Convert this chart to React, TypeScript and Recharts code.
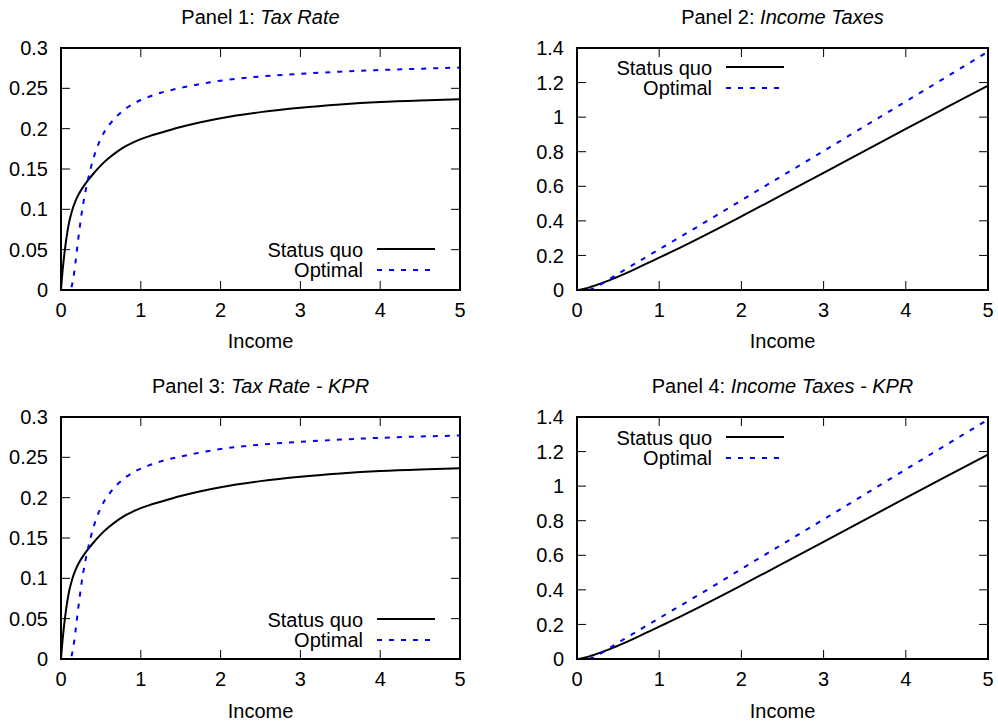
import React from 'react';
import { LineChart, Line, XAxis, YAxis } from 'recharts';

// income grid shared by every panel
const incomeGrid = [0, 0.01, 0.02, 0.05, 0.08, 0.1, 0.12, 0.15, 0.18, 0.2, 0.225, 0.25, 0.3, 0.35, 0.4, 0.45, 0.5, 0.6, 0.7, 0.8, 0.9, 1, 1.1, 1.25, 1.5, 1.75, 2, 2.5, 3, 3.5, 4, 4.5, 5];
const xTicks = [0, 1, 2, 3, 4, 5];
const rateTicks = [0, 0.05, 0.1, 0.15, 0.2, 0.25, 0.3];
const taxTicks = [0, 0.2, 0.4, 0.6, 0.8, 1, 1.2, 1.4];

// Panel 1: Tax Rate
const sqRate = [0, 0.013, 0.024, 0.051, 0.072, 0.083, 0.0915, 0.102, 0.1098, 0.1145, 0.1193, 0.1235, 0.131, 0.1375, 0.1435, 0.1492, 0.1545, 0.1635, 0.1712, 0.1777, 0.1828, 0.187, 0.1905, 0.195, 0.202, 0.208, 0.213, 0.2205, 0.226, 0.23, 0.233, 0.235, 0.2365];
const optRate = [0, 0, 0, 0, 0, 0, 0.001, 0.012, 0.033, 0.05, 0.07, 0.089, 0.119, 0.142, 0.161, 0.176, 0.188, 0.204, 0.2155, 0.224, 0.2305, 0.2355, 0.2395, 0.2445, 0.2505, 0.2555, 0.2595, 0.2647, 0.268, 0.2707, 0.2727, 0.2743, 0.2757];

// Panel 2: Income Taxes
const sqTax = [0, 0.0001, 0.0005, 0.0026, 0.0058, 0.0083, 0.011, 0.0153, 0.0198, 0.0229, 0.0268, 0.0309, 0.0393, 0.0481, 0.0574, 0.0671, 0.0773, 0.0981, 0.1198, 0.1422, 0.1645, 0.187, 0.2096, 0.2438, 0.303, 0.364, 0.426, 0.5513, 0.678, 0.805, 0.932, 1.0575, 1.1825];
const optTax = [0, 0, 0, 0, 0, 0, 0.0001, 0.0018, 0.0059, 0.01, 0.0158, 0.0223, 0.0357, 0.0497, 0.0644, 0.0792, 0.094, 0.1224, 0.1509, 0.1792, 0.2075, 0.2355, 0.2635, 0.3056, 0.3758, 0.4471, 0.519, 0.6618, 0.804, 0.9475, 1.0908, 1.2344, 1.3785];

// Panel 3: Tax Rate - KPR
const sqRateKpr = [0, 0.013, 0.024, 0.051, 0.072, 0.083, 0.0915, 0.102, 0.1098, 0.1145, 0.1193, 0.1235, 0.131, 0.1375, 0.1435, 0.1492, 0.1545, 0.1635, 0.1712, 0.1777, 0.1828, 0.187, 0.1905, 0.195, 0.202, 0.208, 0.213, 0.2205, 0.226, 0.23, 0.233, 0.235, 0.2364];
const optRateKpr = [0, 0, 0, 0, 0, 0, 0.001, 0.012, 0.033, 0.05, 0.07, 0.089, 0.119, 0.142, 0.161, 0.176, 0.188, 0.204, 0.2158, 0.2245, 0.231, 0.236, 0.24, 0.245, 0.251, 0.256, 0.2603, 0.2657, 0.2692, 0.272, 0.2742, 0.2758, 0.277];

// Panel 4: Income Taxes - KPR
const sqTaxKpr = [0, 0.0001, 0.0005, 0.0026, 0.0058, 0.0083, 0.011, 0.0153, 0.0198, 0.0229, 0.0268, 0.0309, 0.0393, 0.0481, 0.0574, 0.0671, 0.0773, 0.0981, 0.1198, 0.1422, 0.1645, 0.187, 0.2096, 0.2438, 0.303, 0.364, 0.426, 0.5513, 0.678, 0.805, 0.932, 1.0575, 1.182];
const optTaxKpr = [0, 0, 0, 0, 0, 0, 0.0001, 0.0018, 0.0059, 0.01, 0.0158, 0.0223, 0.0357, 0.0497, 0.0644, 0.0792, 0.094, 0.1224, 0.1511, 0.1796, 0.2079, 0.236, 0.264, 0.3063, 0.3765, 0.448, 0.5206, 0.6643, 0.8076, 0.952, 1.0968, 1.2411, 1.385];

const font = '"Liberation Sans", Arial, Helvetica, sans-serif';
const blue = '#0000ff';
const dash = '5 7';
const tickText = { fill: '#000', fontSize: 20 };
const tickPx = 9;

type PanelProps = {
  left: number;
  top: number;
  width: number;
  height: number;
  margin: { top: number; right: number; bottom: number; left: number };
  sq: number[];
  opt: number[];
  yMax: number;
  yTicks: number[];
};

function Panel({ left, top, width, height, margin, sq, opt, yMax, yTicks }: PanelProps) {
  const rows = incomeGrid.map((x, i) => ({ x, sq: sq[i], opt: opt[i] }));
  const plotW = width - margin.left - margin.right - 50;
  const plotH = height - margin.top - margin.bottom - 30;
  // inward tick length expressed in data units, so the axis scales place it
  const dx = (tickPx * 5) / plotW;
  const dy = (tickPx * yMax) / plotH;
  const frameRows = [
    { x: 0, y: 0 },
    { x: 5, y: 0 },
    { x: 5, y: yMax },
    { x: 0, y: yMax },
    { x: 0, y: 0 },
  ];
  const tickRows: { x: number; y: number | null }[] = [];
  xTicks.slice(1, -1).forEach((t) => {
    tickRows.push({ x: t, y: 0 }, { x: t, y: dy }, { x: t, y: null });
    tickRows.push({ x: t, y: yMax }, { x: t, y: yMax - dy }, { x: t, y: null });
  });
  yTicks.slice(1, -1).forEach((t) => {
    tickRows.push({ x: 0, y: t }, { x: dx, y: t }, { x: dx, y: null });
    tickRows.push({ x: 5, y: t }, { x: 5 - dx, y: t }, { x: 5 - dx, y: null });
  });
  return (
    <div style={{ position: 'absolute', left, top }}>
      <LineChart width={width} height={height} data={rows} margin={margin}>
        <XAxis
          type="number"
          dataKey="x"
          domain={[0, 5]}
          ticks={xTicks}
          height={30}
          axisLine={false}
          tickLine={false}
          tickSize={0}
          tickMargin={13}
          tick={tickText}
          allowDataOverflow
        />
        <YAxis
          type="number"
          domain={[0, yMax]}
          ticks={yTicks}
          width={50}
          axisLine={false}
          tickLine={false}
          tickSize={0}
          tickMargin={13}
          tickFormatter={(v) => String(v)}
          tick={tickText}
          allowDataOverflow
        />
        <Line
          data={tickRows}
          type="linear"
          dataKey="y"
          stroke="#000"
          strokeWidth={1}
          dot={false}
          activeDot={false}
          connectNulls={false}
          isAnimationActive={false}
        />
        <Line
          data={frameRows}
          type="linear"
          dataKey="y"
          stroke="#000"
          strokeWidth={2}
          strokeLinecap="square"
          dot={false}
          activeDot={false}
          isAnimationActive={false}
        />
        <Line
          type="monotone"
          dataKey="sq"
          stroke="#000"
          strokeWidth={2}
          dot={false}
          activeDot={false}
          isAnimationActive={false}
        />
        <Line
          type="monotone"
          dataKey="opt"
          stroke={blue}
          strokeWidth={2}
          strokeDasharray={dash}
          dot={false}
          activeDot={false}
          isAnimationActive={false}
        />
      </LineChart>
    </div>
  );
}

function Legend({ textEnd, y1, y2 }: { textEnd: number; y1: number; y2: number }) {
  return (
    <g>
      <text x={textEnd} y={y1 + 8} textAnchor="end" fontSize={20} fill="#000">Status quo</text>
      <line x1={textEnd + 14} x2={textEnd + 72} y1={y1} y2={y1} stroke="#000" strokeWidth={2} />
      <text x={textEnd} y={y2 + 7} textAnchor="end" fontSize={20} fill="#000">Optimal</text>
      <line x1={textEnd + 14} x2={textEnd + 72} y1={y2} y2={y2} stroke={blue} strokeWidth={2} strokeDasharray={dash} />
    </g>
  );
}

export default function App() {
  const leftMargin = { top: 48, right: 39, bottom: 43, left: 11 };
  const rightMargin = { top: 48, right: 10, bottom: 43, left: 28 };
  const leftMarginLow = { top: 48, right: 39, bottom: 38, left: 11 };
  const rightMarginLow = { top: 48, right: 10, bottom: 38, left: 28 };
  return (
    <div style={{ position: 'absolute', left: 0, top: 0, width: 998, height: 727, fontFamily: font }}>
      <Panel left={0} top={0} width={499} height={363} margin={leftMargin} sq={sqRate} opt={optRate} yMax={0.3} yTicks={rateTicks} />
      <Panel left={499} top={0} width={499} height={363} margin={rightMargin} sq={sqTax} opt={optTax} yMax={1.4} yTicks={taxTicks} />
      <Panel left={0} top={369} width={499} height={358} margin={leftMarginLow} sq={sqRateKpr} opt={optRateKpr} yMax={0.3} yTicks={rateTicks} />
      <Panel left={499} top={369} width={499} height={358} margin={rightMarginLow} sq={sqTaxKpr} opt={optTaxKpr} yMax={1.4} yTicks={taxTicks} />
      <div style={{ position: 'absolute', left: 60, top: 47, width: 401, height: 244, boxSizing: 'border-box', border: '2px solid #000', pointerEvents: 'none' }} />
      <div style={{ position: 'absolute', left: 576, top: 47, width: 413, height: 244, boxSizing: 'border-box', border: '2px solid #000', pointerEvents: 'none' }} />
      <div style={{ position: 'absolute', left: 60, top: 416, width: 401, height: 244, boxSizing: 'border-box', border: '2px solid #000', pointerEvents: 'none' }} />
      <div style={{ position: 'absolute', left: 576, top: 416, width: 413, height: 244, boxSizing: 'border-box', border: '2px solid #000', pointerEvents: 'none' }} />
      <svg width={998} height={727} style={{ position: 'absolute', left: 0, top: 0, pointerEvents: 'none' }} fontFamily={font}>
        <text x={260.5} y={24} textAnchor="middle" fontSize={20} fill="#000">
          Panel 1: <tspan fontStyle="italic">Tax Rate</tspan>
        </text>
        <text x={782.5} y={24} textAnchor="middle" fontSize={20} fill="#000">
          Panel 2: <tspan fontStyle="italic">Income Taxes</tspan>
        </text>
        <text x={260.5} y={393} textAnchor="middle" fontSize={20} fill="#000">
          Panel 3: <tspan fontStyle="italic">Tax Rate - KPR</tspan>
        </text>
        <text x={782.5} y={393} textAnchor="middle" fontSize={20} fill="#000">
          Panel 4: <tspan fontStyle="italic">Income Taxes - KPR</tspan>
        </text>
        <text x={260.5} y={348} textAnchor="middle" fontSize={20} fill="#000">Income</text>
        <text x={782.5} y={348} textAnchor="middle" fontSize={20} fill="#000">Income</text>
        <text x={260.5} y={718} textAnchor="middle" fontSize={20} fill="#000">Income</text>
        <text x={782.5} y={718} textAnchor="middle" fontSize={20} fill="#000">Income</text>
        <Legend textEnd={363} y1={249} y2={270} />
        <Legend textEnd={712} y1={67} y2={88} />
        <Legend textEnd={363} y1={619} y2={640} />
        <Legend textEnd={712} y1={437} y2={458} />
      </svg>
    </div>
  );
}
